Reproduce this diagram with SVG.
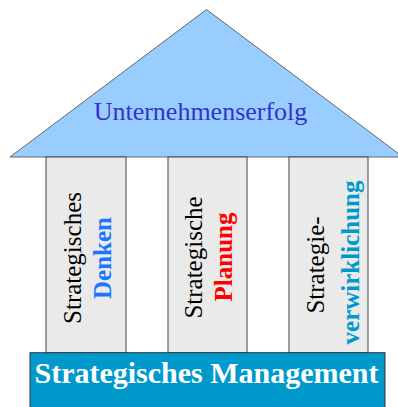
<svg xmlns="http://www.w3.org/2000/svg" width="398" height="407" viewBox="0 0 398 407">
<style>
.col{fill:#EAEAEA;stroke:#444;stroke-width:1}
.t{font-family:"Liberation Serif","Times New Roman",serif;font-size:25px;text-anchor:middle}
.b{font-weight:bold}
</style>
<rect width="398" height="407" fill="#fff"/>
<g id="roof">
<polygon points="206.5,9.5 10,157 403,157" fill="#99CCFF" stroke="#666" stroke-width="1"/>
<text x="200.5" y="119.5" class="t" style="font-size:26px" fill="#3333CC">Unternehmenserfolg</text>
</g>
<g id="pillar1">
<rect class="col" x="46" y="157" width="80" height="196"/>
<text class="t" transform="translate(81,258) rotate(-90)" fill="#000">Strategisches</text>
<text class="t b" transform="translate(111,258) rotate(-90)" fill="#1A75FF">Denken</text>
</g>
<g id="pillar2">
<rect class="col" x="168" y="157" width="79" height="196"/>
<text class="t" transform="translate(201.5,257.5) rotate(-90)" fill="#000">Strategische</text>
<text class="t b" transform="translate(231.5,257) rotate(-90)" fill="#FF0000">Planung</text>
</g>
<g id="pillar3">
<rect class="col" x="289" y="157" width="79" height="196"/>
<text class="t" transform="translate(324,265) rotate(-90)" fill="#000">Strategie-</text>
<text class="t b" transform="translate(358.5,262.5) rotate(-90)" fill="#0099CC">verwirklichung</text>
</g>
<g id="base">
<rect x="30" y="352.7" width="355" height="60" fill="#0099CC" stroke="#333" stroke-width="1"/>
<text class="t b" x="206.5" y="383.3" style="font-size:30px" fill="#fff">Strategisches Management</text>
</g>
<g id="connectors"></g>
</svg>
